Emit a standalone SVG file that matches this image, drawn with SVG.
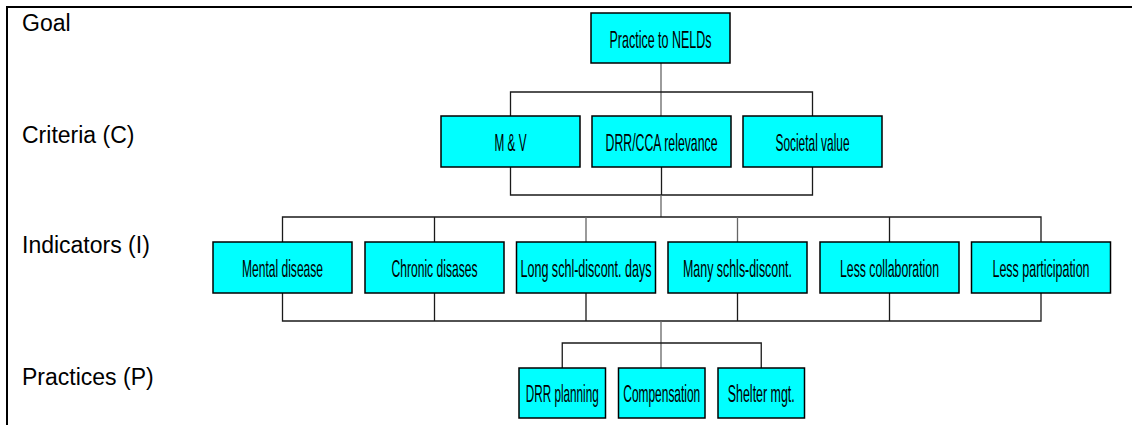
<svg xmlns="http://www.w3.org/2000/svg" width="1132" height="425" viewBox="0 0 1132 425">
<style>
.frame{fill:none;stroke:#000;stroke-width:2}
.lbl{font-family:"Liberation Sans",Arial,sans-serif;font-size:23px;fill:#000}
.box rect{fill:#00ffff;stroke:#000;stroke-width:1.5}
.box text{font-family:"Liberation Sans",Arial,sans-serif;font-size:24px;fill:#000;text-anchor:middle}
.conn{fill:none;stroke:#1a1a1a;stroke-width:1.3}
.trunk{fill:none;stroke:#666;stroke-width:1.3}
</style>
<rect x="0" y="0" width="1132" height="425" fill="#fff"/>
<path class="frame" d="M7,425 V7 H1132"/>
<g id="level-labels">
<text class="lbl" x="22" y="31">Goal</text>
<text class="lbl" x="22" y="143">Criteria (C)</text>
<text class="lbl" x="22" y="253">Indicators (I)</text>
<text class="lbl" x="22" y="385">Practices (P)</text>
</g>
<g id="connectors">
<path class="trunk" d="M661,63 V116"/>
<path class="conn" d="M510.5,116 V92 H812.5 V116"/>
<path class="conn" d="M510.5,167 V195 H812.5 V167 M661.5,167 V195"/>
<path class="trunk" d="M661,195 V217"/>
<path class="conn" d="M282.5,242 V217 H1041 V242 M434.5,217 V242 M889.5,217 V242"/>
<path class="trunk" d="M586,217 V242 M737.5,217 V242"/>
<path class="conn" d="M282.5,293 V321 H1041 V293 M434.5,293 V321 M586,293 V321 M737.5,293 V321 M889.5,293 V321"/>
<path class="trunk" d="M661,321 V368"/>
<path class="conn" d="M562.25,368 V343 H761.25 V368"/>
</g>
<g id="goal" class="box"><rect x="591" y="13" width="139" height="50"/><text transform="translate(660.5,48) scale(0.5,1)" textLength="204" lengthAdjust="spacingAndGlyphs">Practice to NELDs</text></g>
<g id="c-mv" class="box"><rect x="441" y="116" width="139" height="51"/><text transform="translate(510.5,151) scale(0.5,1)" textLength="64" lengthAdjust="spacingAndGlyphs">M &amp; V</text></g>
<g id="c-drr" class="box"><rect x="592" y="116" width="139" height="51"/><text transform="translate(661.5,151) scale(0.5,1)" textLength="224" lengthAdjust="spacingAndGlyphs">DRR/CCA relevance</text></g>
<g id="c-soc" class="box"><rect x="743" y="116" width="139" height="51"/><text transform="translate(812.5,151) scale(0.5,1)" textLength="148" lengthAdjust="spacingAndGlyphs">Societal value</text></g>
<g id="i-mental" class="box"><rect x="213" y="242" width="139" height="51"/><text transform="translate(282.5,277) scale(0.5,1)" textLength="162" lengthAdjust="spacingAndGlyphs">Mental disease</text></g>
<g id="i-chronic" class="box"><rect x="365" y="242" width="139" height="51"/><text transform="translate(434.5,277) scale(0.5,1)" textLength="172" lengthAdjust="spacingAndGlyphs">Chronic disases</text></g>
<g id="i-long" class="box"><rect x="516.5" y="242" width="139" height="51"/><text transform="translate(586,277) scale(0.5,1)" textLength="262" lengthAdjust="spacingAndGlyphs">Long schl-discont. days</text></g>
<g id="i-many" class="box"><rect x="668" y="242" width="139" height="51"/><text transform="translate(737.5,277) scale(0.5,1)" textLength="218" lengthAdjust="spacingAndGlyphs">Many schls-discont.</text></g>
<g id="i-collab" class="box"><rect x="820" y="242" width="139" height="51"/><text transform="translate(889.5,277) scale(0.5,1)" textLength="198" lengthAdjust="spacingAndGlyphs">Less collaboration</text></g>
<g id="i-partic" class="box"><rect x="971.5" y="242" width="139" height="51"/><text transform="translate(1041,277) scale(0.5,1)" textLength="194" lengthAdjust="spacingAndGlyphs">Less participation</text></g>
<g id="p-drr" class="box"><rect x="519" y="368" width="86.5" height="50"/><text transform="translate(562.25,402) scale(0.5,1)" textLength="146" lengthAdjust="spacingAndGlyphs">DRR planning</text></g>
<g id="p-comp" class="box"><rect x="618.5" y="368" width="86.5" height="50"/><text transform="translate(661.75,402) scale(0.5,1)" textLength="154" lengthAdjust="spacingAndGlyphs">Compensation</text></g>
<g id="p-shelter" class="box"><rect x="718" y="368" width="86.5" height="50"/><text transform="translate(761.25,402) scale(0.5,1)" textLength="134" lengthAdjust="spacingAndGlyphs">Shelter mgt.</text></g>
</svg>
